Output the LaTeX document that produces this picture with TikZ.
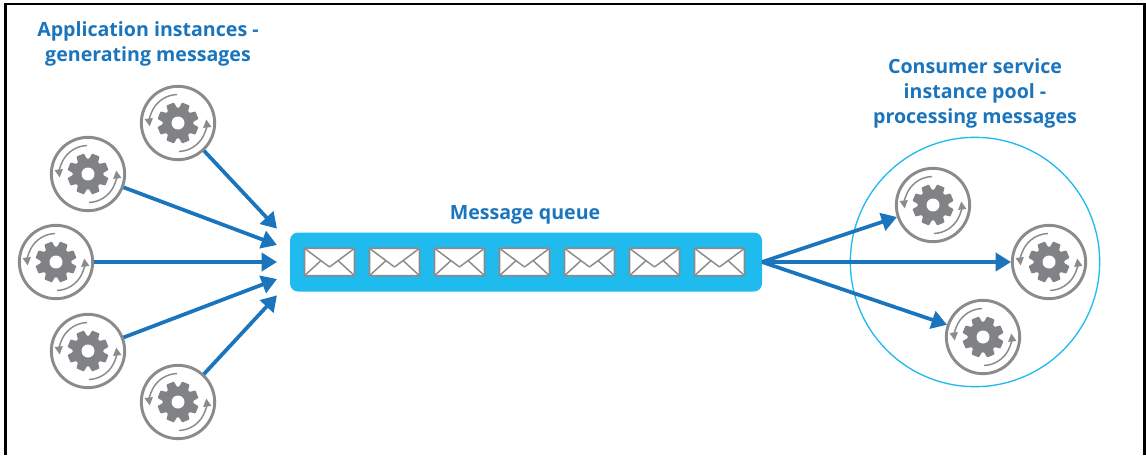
\documentclass[tikz,border=0pt]{standalone}
\usepackage{fontspec}
\setmainfont{Open Sans}
\usepackage{tikz}
\usetikzlibrary{arrows.meta}
\definecolor{flowblue}{HTML}{1B75BC}
\definecolor{queueblue}{HTML}{1FBBEE}
\definecolor{ringgray}{HTML}{8A8B8D}
\definecolor{geargray}{HTML}{808285}

\begin{document}
\begin{tikzpicture}[
        x = 0.75pt,
        y = 0.75pt,
        heading/.style = {
            text = flowblue,
            font = \fontsize{14.7}{18.75}\selectfont\bfseries,
            align = center,
            inner sep = 0pt
        },
        instance/.style = {
            draw = ringgray,
            circle,
            line width = 2.2pt,
            fill = white,
            minimum size = 55pt,
            inner sep = 0pt,
            outer sep = 1pt
        },
        letter/.style = {
            draw = ringgray,
            fill = white,
            line width = 1.3pt,
            rounded corners = 0.5pt,
            minimum width = 37.5pt,
            minimum height = 20.5pt,
            inner sep = 0pt,
            path picture = {
                \draw[ringgray, line width = 1.1pt]
                    (path picture bounding box.north west) -- ([yshift=6.5pt]path picture bounding box.south)
                    -- (path picture bounding box.north east);
                \draw[ringgray, line width = 1.1pt] (path picture bounding box.south west) -- ([xshift=-6.75pt,yshift=11pt]path picture bounding box.south);
                \draw[ringgray, line width = 1.1pt] (path picture bounding box.south east) -- ([xshift=6.75pt,yshift=11pt]path picture bounding box.south);
            }
        },
        flow/.style = {
            draw = flowblue,
            line width = 2.8pt,
            -{Triangle[length=11.5pt, width=13.5pt]}
        },
        turn/.style = {
            draw = ringgray,
            line width = 1.1pt,
            -{Triangle[length=6pt, width=6pt]}
        },
        pics/gearicon/.style = {
            code = {
                \fill[geargray] (0,0) circle (15.5);
                \foreach \a in {0,45,...,315}
                    \fill[geargray, rotate=\a+22.5, rounded corners=0.5pt] (-5.2,12) -- (-4,20.5) -- (4,20.5) -- (5.2,12) -- cycle;
                \fill[white] (0,0) circle (6.5);
                \draw[turn] (92:28.5) arc [start angle=92, end angle=187, radius=28.5];
                \draw[turn] (-88:28.5) arc [start angle=-88, end angle=7, radius=28.5];
            }
        }
        ]
%
        \useasboundingbox (0,0) rectangle (1146,455);
        \draw[black, line width = 2pt] (5.5,0) -- (5.5,451) -- (1144.5,451) -- (1144.5,0);
%
        \node[heading] (apptitle) at (148,411.5) {Application instances -\\generating messages};
        \node[heading] (pooltitle) at (975,362) {Consumer service\\instance pool -\\processing messages};
        \node[heading] (queuetitle) at (525,240.5) {Message queue};
%
        \node[circle, draw=queueblue, line width = 1pt, minimum size = 187pt, inner sep = 0pt] (pool) at (975,193) {};
%
        \node[draw=none, fill=queueblue, rounded corners = 6pt, minimum width = 354pt, minimum height = 44.25pt, inner sep = 0pt, outer sep = 0pt] (queue) at (526,193) {};
        \foreach \i in {1,...,7}
            \node[letter] (letter\i) at (264.5+65*\i,193) {};
%
        \node[instance] (app1) at (178,332) {};
        \node[instance] (app2) at (88,281) {};
        \node[instance] (app3) at (56,193) {};
        \node[instance] (app4) at (88,104) {};
        \node[instance] (app5) at (178,53) {};
%
        \node[instance] (worker1) at (933,250) {};
        \node[instance] (worker2) at (1049,193) {};
        \node[instance] (worker3) at (983,118) {};
%
        \foreach \n in {app1,app2,app3,app4,app5,worker1,worker2,worker3}
            \pic at (\n) {gearicon};
%
        \coordinate (in1) at ([xshift=-9.75pt,yshift=25pt]queue.west);
        \coordinate (in2) at ([xshift=-9.75pt,yshift=12.75pt]queue.west);
        \coordinate (in3) at ([xshift=-9.75pt]queue.west);
        \coordinate (in4) at ([xshift=-9.75pt,yshift=-12.75pt]queue.west);
        \coordinate (in5) at ([xshift=-9.75pt,yshift=-25pt]queue.west);
%
        \draw[flow] (app1) -- (in1);
        \draw[flow] (app2) -- (in2);
        \draw[flow] (app3) -- (in3);
        \draw[flow] (app4) -- (in4);
        \draw[flow] (app5) -- (in5);
%
        \draw[flow] (queue.east) -- (worker1);
        \draw[flow] (queue.east) -- (worker2);
        \draw[flow] (queue.east) -- (worker3);
%
    \end{tikzpicture}
\end{document}
